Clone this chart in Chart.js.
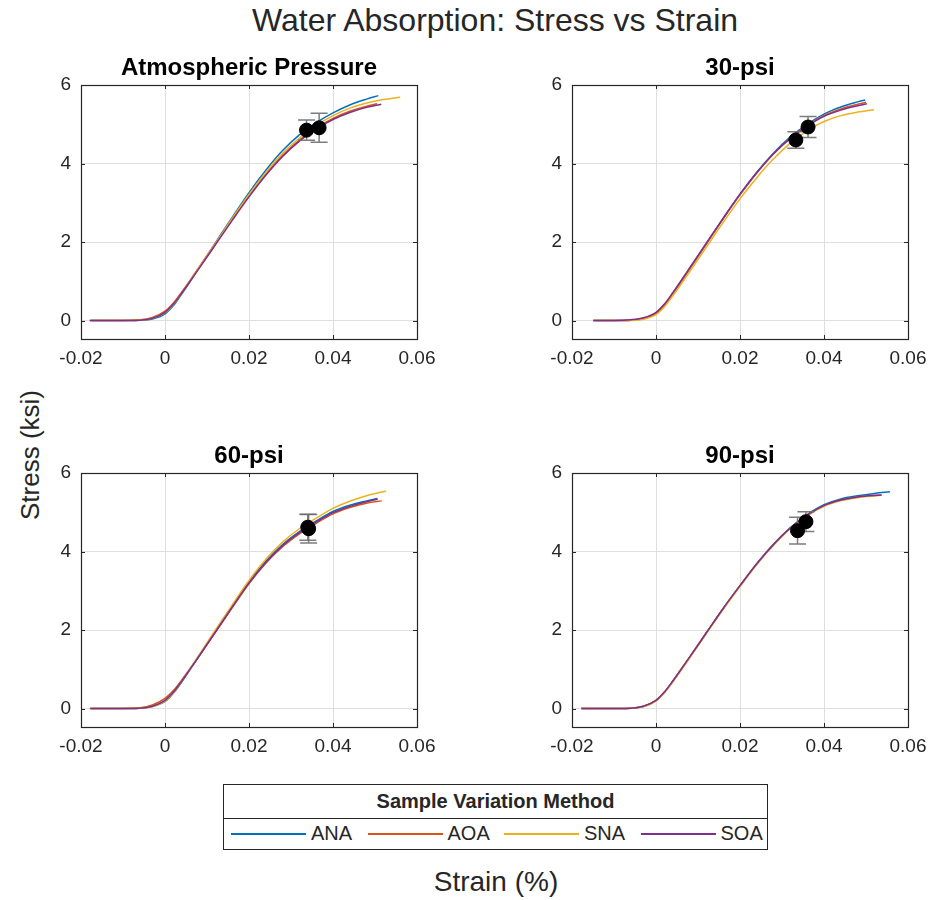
<!DOCTYPE html>
<html>
<head>
<meta charset="utf-8">
<script src="https://cdn.jsdelivr.net/npm/chart.js@4.4.1/dist/chart.umd.min.js"></script>
<style>
  html, body { margin: 0; padding: 0; background: #fff; }
  body { width: 938px; height: 900px; position: relative; overflow: hidden;
         font-family: "Liberation Sans", Arial, Helvetica, sans-serif; color: #262626; }
  canvas.panel { position: absolute; }
  #mainTitle { position: absolute; left: 195px; width: 600px; top: 1px; text-align: center;
               font-size: 32px; line-height: 38px; white-space: nowrap; }
  #yLabel { position: absolute; left: 30px; top: 455px; transform: translate(-50%, -50%) rotate(-90deg);
            font-size: 26px; white-space: nowrap; }
  #xLabel { position: absolute; left: 496px; top: 882px; transform: translate(-50%, -50%);
            font-size: 28px; white-space: nowrap; }
  #legend { position: absolute; left: 223px; top: 784px; width: 545px; height: 66px;
            box-sizing: border-box; border: 1px solid #262626; background: #fff; }
  #legendTitle { height: 33px; line-height: 33px; text-align: center; font-weight: bold;
                 font-size: 20px; border-bottom: 1px solid #262626; }
  .legItem { position: absolute; top: 33px; height: 31px; }
  .legLine { position: absolute; top: 15px; height: 1.5px; width: 75px; }
  .legText { position: absolute; left: 80px; top: 0; line-height: 31px; font-size: 20px; white-space: nowrap; }
</style>
</head>
<body>
<div id="mainTitle">Water Absorption: Stress vs Strain</div>
<div id="yLabel">Stress (ksi)</div>
<div id="xLabel">Strain (%)</div>
<canvas class="panel" id="p1" width="420" height="340" style="left:20px;top:50px"></canvas>
<canvas class="panel" id="p2" width="420" height="340" style="left:511px;top:50px"></canvas>
<canvas class="panel" id="p3" width="420" height="340" style="left:20px;top:438px"></canvas>
<canvas class="panel" id="p4" width="420" height="340" style="left:511px;top:438px"></canvas>
<div id="legend"><div id="legendTitle">Sample Variation Method</div></div>

<script>
// ---- Series names, colours and axis ticks ----
const seriesNames = ['ANA', 'AOA', 'SNA', 'SOA'];
const seriesColors = ['#0072BD', '#D95319', '#EDB120', '#7E2F8E'];
const panelTitles = ['Atmospheric Pressure', '30-psi', '60-psi', '90-psi'];
const xTickValues = [-0.02, 0, 0.02, 0.04, 0.06];
const yTickValues = [0, 2, 4, 6];

// ---- Atmospheric pressure: [strain, stress] ----
const atmANA = [[-0.0179,0],[-0.012,0],[-0.006,0.01],[-0.003,0.04],[0,0.17],[0.002,0.38],[0.004,0.68],[0.006,1.0],[0.008,1.33],[0.012,1.98],[0.016,2.63],[0.020,3.26],[0.024,3.83],[0.028,4.33],[0.032,4.73],[0.036,5.04],[0.040,5.29],[0.044,5.49],[0.048,5.64],[0.0508,5.73]];
const atmAOA = [[-0.0175,0],[-0.012,0],[-0.006,0.02],[-0.003,0.08],[0,0.24],[0.002,0.45],[0.004,0.73],[0.006,1.03],[0.008,1.34],[0.012,1.96],[0.016,2.58],[0.020,3.18],[0.024,3.73],[0.028,4.21],[0.032,4.60],[0.036,4.91],[0.040,5.15],[0.044,5.33],[0.048,5.46],[0.0505,5.52]];
const atmSNA = [[-0.0178,0],[-0.012,0],[-0.006,0.01],[-0.003,0.06],[0,0.20],[0.002,0.41],[0.004,0.70],[0.006,1.01],[0.008,1.33],[0.012,1.96],[0.016,2.60],[0.020,3.21],[0.024,3.77],[0.028,4.26],[0.032,4.65],[0.036,4.97],[0.040,5.22],[0.044,5.41],[0.048,5.54],[0.052,5.63],[0.056,5.69]];
const atmSOA = [[-0.0179,0],[-0.012,0],[-0.006,0.01],[-0.003,0.06],[0,0.21],[0.002,0.42],[0.004,0.70],[0.006,1.0],[0.008,1.31],[0.012,1.93],[0.016,2.55],[0.020,3.15],[0.024,3.70],[0.028,4.18],[0.032,4.57],[0.036,4.88],[0.040,5.12],[0.044,5.30],[0.048,5.43],[0.0515,5.51]];
const atmFailStrain = [0.0337, 0.0367];
const atmFailStress = [4.85, 4.91];
const atmFailErr = [0.26, 0.37];

// ---- 30-psi ----
const p30ANA = [[-0.0149,0],[-0.010,0],[-0.006,0.01],[-0.003,0.05],[0,0.19],[0.002,0.40],[0.004,0.69],[0.006,1.0],[0.008,1.32],[0.012,1.96],[0.016,2.60],[0.020,3.22],[0.024,3.78],[0.028,4.27],[0.032,4.68],[0.036,5.0],[0.040,5.26],[0.044,5.44],[0.048,5.57],[0.0498,5.62]];
const p30AOA = [[-0.0150,0],[-0.010,0],[-0.006,0.01],[-0.003,0.05],[0,0.18],[0.002,0.39],[0.004,0.68],[0.006,0.99],[0.008,1.31],[0.012,1.95],[0.016,2.59],[0.020,3.20],[0.024,3.76],[0.028,4.25],[0.032,4.65],[0.036,4.97],[0.040,5.22],[0.044,5.39],[0.048,5.51],[0.0500,5.56]];
const p30SNA = [[-0.0148,0],[-0.010,0],[-0.006,0.0],[-0.003,0.03],[0,0.15],[0.002,0.35],[0.004,0.63],[0.006,0.93],[0.008,1.24],[0.012,1.87],[0.016,2.50],[0.020,3.10],[0.024,3.64],[0.028,4.12],[0.032,4.52],[0.036,4.84],[0.040,5.07],[0.044,5.22],[0.048,5.31],[0.0519,5.37]];
const p30SOA = [[-0.0149,0],[-0.010,0],[-0.006,0.02],[-0.003,0.07],[0,0.21],[0.002,0.42],[0.004,0.71],[0.006,1.02],[0.008,1.34],[0.012,1.98],[0.016,2.61],[0.020,3.22],[0.024,3.77],[0.028,4.25],[0.032,4.64],[0.036,4.95],[0.040,5.20],[0.044,5.36],[0.048,5.47],[0.0502,5.52]];
const p30FailStrain = [0.0333, 0.0362];
const p30FailStress = [4.60, 4.93];
const p30FailErr = [0.21, 0.27];

// ---- 60-psi ----
const p60ANA = [[-0.0179,0],[-0.012,0],[-0.006,0.01],[-0.003,0.05],[0,0.18],[0.002,0.39],[0.004,0.68],[0.006,1.0],[0.008,1.32],[0.012,1.96],[0.016,2.60],[0.020,3.22],[0.024,3.75],[0.028,4.18],[0.032,4.51],[0.036,4.78],[0.040,5.02],[0.044,5.18],[0.048,5.29],[0.0506,5.35]];
const p60AOA = [[-0.0176,0],[-0.012,0],[-0.006,0.02],[-0.003,0.09],[0,0.26],[0.002,0.46],[0.004,0.73],[0.006,1.02],[0.008,1.32],[0.012,1.94],[0.016,2.57],[0.020,3.18],[0.024,3.70],[0.028,4.12],[0.032,4.45],[0.036,4.72],[0.040,4.96],[0.044,5.12],[0.048,5.23],[0.0516,5.29]];
const p60SNA = [[-0.0178,0],[-0.012,0],[-0.006,0.01],[-0.003,0.05],[0,0.19],[0.002,0.40],[0.004,0.70],[0.006,1.02],[0.008,1.35],[0.012,2.0],[0.016,2.64],[0.020,3.26],[0.024,3.80],[0.028,4.24],[0.032,4.58],[0.036,4.85],[0.040,5.10],[0.044,5.28],[0.048,5.42],[0.0526,5.54]];
const p60SOA = [[-0.0178,0],[-0.012,0],[-0.006,0.01],[-0.003,0.06],[0,0.21],[0.002,0.42],[0.004,0.70],[0.006,1.01],[0.008,1.32],[0.012,1.95],[0.016,2.58],[0.020,3.20],[0.024,3.72],[0.028,4.15],[0.032,4.48],[0.036,4.75],[0.040,4.99],[0.044,5.15],[0.048,5.27],[0.0506,5.33]];
const p60FailStrain = [0.0340, 0.0342];
const p60FailStress = [4.62, 4.58];
const p60FailErr = [0.33, 0.36];

// ---- 90-psi ----
const p90ANA = [[-0.0177,0],[-0.012,0],[-0.006,0.01],[-0.003,0.05],[0,0.20],[0.002,0.41],[0.004,0.69],[0.006,0.99],[0.008,1.30],[0.012,1.93],[0.016,2.55],[0.020,3.13],[0.024,3.69],[0.028,4.19],[0.032,4.61],[0.036,4.94],[0.040,5.19],[0.044,5.34],[0.048,5.42],[0.052,5.48],[0.0557,5.52]];
const p90AOA = [[-0.0178,0],[-0.012,0],[-0.006,0.01],[-0.003,0.06],[0,0.21],[0.002,0.42],[0.004,0.70],[0.006,1.0],[0.008,1.31],[0.012,1.93],[0.016,2.55],[0.020,3.13],[0.024,3.69],[0.028,4.18],[0.032,4.60],[0.036,4.93],[0.040,5.17],[0.044,5.31],[0.048,5.39],[0.0537,5.44]];
const p90SNA = [[-0.0177,0],[-0.012,0],[-0.006,0.01],[-0.003,0.05],[0,0.19],[0.002,0.40],[0.004,0.68],[0.006,0.98],[0.008,1.29],[0.012,1.91],[0.016,2.53],[0.020,3.11],[0.024,3.67],[0.028,4.16],[0.032,4.58],[0.036,4.91],[0.040,5.15],[0.044,5.29],[0.048,5.37],[0.0537,5.43]];
const p90SOA = [[-0.0178,0],[-0.012,0],[-0.006,0.01],[-0.003,0.06],[0,0.21],[0.002,0.42],[0.004,0.70],[0.006,1.0],[0.008,1.31],[0.012,1.93],[0.016,2.55],[0.020,3.13],[0.024,3.69],[0.028,4.18],[0.032,4.60],[0.036,4.93],[0.040,5.17],[0.044,5.31],[0.048,5.39],[0.0537,5.44]];
const p90FailStrain = [0.0337, 0.0357];
const p90FailStress = [4.53, 4.76];
const p90FailErr = [0.34, 0.25];

const panels = [
  { id: 'p1', curves: [atmANA, atmAOA, atmSNA, atmSOA], fx: atmFailStrain, fy: atmFailStress, fe: atmFailErr },
  { id: 'p2', curves: [p30ANA, p30AOA, p30SNA, p30SOA], fx: p30FailStrain, fy: p30FailStress, fe: p30FailErr },
  { id: 'p3', curves: [p60ANA, p60AOA, p60SNA, p60SOA], fx: p60FailStrain, fy: p60FailStress, fe: p60FailErr },
  { id: 'p4', curves: [p90ANA, p90AOA, p90SNA, p90SOA], fx: p90FailStrain, fy: p90FailStress, fe: p90FailErr }
];

const FONT = '"Liberation Sans", Arial, Helvetica, sans-serif';
const INK = '#262626';

function fmtTick(v) {
  if (Math.abs(v) < 1e-9) return '0';
  return String(parseFloat(v.toFixed(2)));
}

// Box around the plot area with inward tick marks on all four sides
const boxPlugin = {
  id: 'boxFrame',
  afterDraw(chart) {
    const { ctx, chartArea: a, scales } = chart;
    ctx.save();
    ctx.strokeStyle = INK;
    ctx.lineWidth = 1;
    const tl = 4;
    ctx.beginPath();
    xTickValues.forEach(v => {
      const px = Math.round(scales.x.getPixelForValue(v)) + 0.5;
      ctx.moveTo(px, a.bottom); ctx.lineTo(px, a.bottom - tl);
      ctx.moveTo(px, a.top); ctx.lineTo(px, a.top + tl);
    });
    yTickValues.forEach(v => {
      const py = Math.round(scales.y.getPixelForValue(v)) + 0.5;
      ctx.moveTo(a.left, py); ctx.lineTo(a.left + tl, py);
      ctx.moveTo(a.right, py); ctx.lineTo(a.right - tl, py);
    });
    ctx.stroke();
    ctx.lineWidth = 1.2;
    ctx.strokeRect(Math.round(a.left) + 0.5, Math.round(a.top) + 0.5,
                   Math.round(a.right - a.left), Math.round(a.bottom - a.top));
    // panel heading
    const t = chart.options.plugins.boxFrame.heading;
    ctx.fillStyle = '#000';
    ctx.font = 'bold 24px ' + FONT;
    ctx.textAlign = 'center';
    ctx.textBaseline = 'alphabetic';
    ctx.fillText(t, (a.left + a.right) / 2, a.top - 10);
    ctx.restore();
  }
};

// Vertical error bars for the failure points, drawn just before their markers
const errorBarPlugin = {
  id: 'failErrors',
  beforeDatasetDraw(chart, args) {
    const ds = chart.data.datasets[args.index];
    if (!ds.errors) return;
    const { ctx, scales } = chart;
    ctx.save();
    ctx.strokeStyle = 'rgba(110,110,110,0.9)';
    ctx.lineWidth = 1.5;
    const cap = 8.5;
    ds.data.forEach((p, i) => {
      const e = ds.errors[i];
      const px = scales.x.getPixelForValue(p.x);
      const y1 = scales.y.getPixelForValue(p.y + e);
      const y0 = scales.y.getPixelForValue(p.y - e);
      ctx.beginPath();
      ctx.moveTo(px, y1); ctx.lineTo(px, y0);
      ctx.moveTo(px - cap, y1); ctx.lineTo(px + cap, y1);
      ctx.moveTo(px - cap, y0); ctx.lineTo(px + cap, y0);
      ctx.stroke();
    });
    ctx.restore();
  }
};

panels.forEach((p, k) => {
  const datasets = [];
  // failure points, drawn last (lowest order)
  datasets.push({
    data: p.fx.map((x, i) => ({ x: x, y: p.fy[i] })),
    errors: p.fe,
    showLine: false,
    pointRadius: 7,
    pointBackgroundColor: '#000',
    pointBorderColor: '#000',
    pointBorderWidth: 1,
    order: 0
  });
  p.curves.forEach((c, s) => {
    datasets.push({
      label: seriesNames[s],
      data: c.map(d => ({ x: d[0], y: d[1] })),
      showLine: true,
      borderColor: seriesColors[s],
      borderWidth: 1.5,
      pointRadius: 0,
      cubicInterpolationMode: 'monotone',
      fill: false,
      order: 4 - s
    });
  });

  new Chart(document.getElementById(p.id), {
    type: 'scatter',
    data: { datasets },
    plugins: [errorBarPlugin, boxPlugin],
    options: {
      responsive: false,
      animation: false,
      devicePixelRatio: 1,
      events: [],
      layout: { padding: { top: 35, right: 23, left: 0, bottom: 0 } },
      plugins: {
        legend: { display: false },
        tooltip: { enabled: false },
        boxFrame: { heading: panelTitles[k] }
      },
      scales: {
        x: {
          type: 'linear', min: -0.02, max: 0.06,
          afterBuildTicks: s => { s.ticks = xTickValues.map(v => ({ value: v })); },
          afterFit: s => { s.height = 51; s.paddingLeft = 0; s.paddingRight = 0; },
          ticks: { padding: 8, color: INK, font: { size: 19, family: FONT }, maxRotation: 0, autoSkip: false, callback: v => fmtTick(v) },
          grid: { color: '#dfdfdf', lineWidth: 1, drawTicks: false },
          border: { display: false }
        },
        y: {
          type: 'linear', min: -0.47, max: 6,
          afterBuildTicks: s => { s.ticks = yTickValues.map(v => ({ value: v })); },
          afterFit: s => { s.width = 61; s.paddingTop = 0; s.paddingBottom = 0; },
          ticks: { padding: 10, color: INK, font: { size: 19, family: FONT }, callback: v => fmtTick(v) },
          grid: { color: '#dfdfdf', lineWidth: 1, drawTicks: false },
          border: { display: false }
        }
      }
    }
  });
});

// Shared legend row
const legend = document.getElementById('legend');
seriesNames.forEach((name, i) => {
  const item = document.createElement('div');
  item.className = 'legItem';
  item.style.left = (7 + i * 136.5) + 'px';
  const line = document.createElement('div');
  line.className = 'legLine';
  line.style.background = seriesColors[i];
  const txt = document.createElement('div');
  txt.className = 'legText';
  txt.textContent = name;
  item.appendChild(line);
  item.appendChild(txt);
  legend.appendChild(item);
});
</script>
</body>
</html>
